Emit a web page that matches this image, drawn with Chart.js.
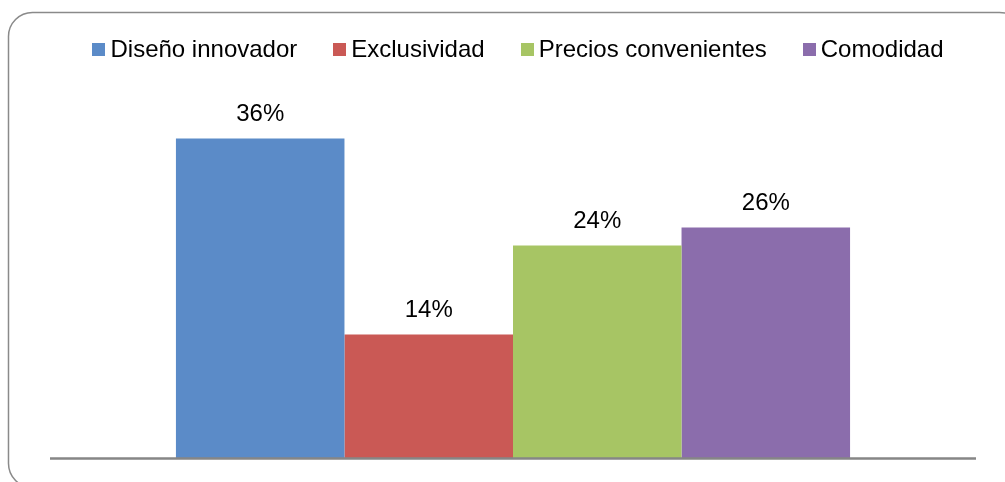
<!DOCTYPE html>
<html>
<head>
<meta charset="utf-8">
<script src="https://cdn.jsdelivr.net/npm/chart.js@4/dist/chart.umd.min.js"></script>
<style>
  html, body { margin: 0; padding: 0; background: #ffffff; }
  #wrap { width: 1005px; height: 482px; }
</style>
</head>
<body>
<div id="wrap"><canvas id="chart" width="1005" height="482"></canvas></div>
<script>
// Survey answers: one bar per reason, value in percent
const categories = ['Diseño innovador', 'Exclusividad', 'Precios convenientes', 'Comodidad'];
const values = [36, 14, 24, 26];
const valueLabels = ['36%', '14%', '24%', '26%'];

const barColors = ['#5B8BC8', '#CA5955', '#A7C564', '#8B6DAC'];
const FONT = '"Liberation Sans", Arial, sans-serif';

const datasets = categories.map((name, i) => ({
  label: name,
  data: [values[i]],
  backgroundColor: barColors[i],
  borderWidth: 0,
  categoryPercentage: 0.728,
  barPercentage: 1.0
}));

// Rounded frame around the whole chart
const framePlugin = {
  id: 'frame',
  beforeDraw(chart) {
    const ctx = chart.ctx;
    ctx.save();
    ctx.fillStyle = '#ffffff';
    ctx.fillRect(0, 0, chart.width, chart.height);
    ctx.beginPath();
    ctx.roundRect(8.5, 12.5, 1015, 475, 24);
    ctx.strokeStyle = '#8a8a8a';
    ctx.lineWidth = 1.5;
    ctx.stroke();
    ctx.restore();
  }
};

// Horizontal category axis line under the bars
const baselinePlugin = {
  id: 'baseline',
  afterDatasetsDraw(chart) {
    const { ctx, chartArea } = chart;
    const y0 = chart.scales.y.getPixelForValue(0);
    ctx.save();
    ctx.beginPath();
    ctx.moveTo(chartArea.left, y0 - 0.5);
    ctx.lineTo(chartArea.right, y0 - 0.5);
    ctx.strokeStyle = '#868686';
    ctx.lineWidth = 2.5;
    ctx.stroke();
    ctx.restore();
  }
};

// Percentage labels above each bar
const valueLabelPlugin = {
  id: 'valueLabels',
  afterDatasetsDraw(chart) {
    const ctx = chart.ctx;
    ctx.save();
    ctx.font = '24px ' + FONT;
    ctx.fillStyle = '#000000';
    ctx.textAlign = 'center';
    ctx.textBaseline = 'middle';
    chart.data.datasets.forEach((ds, i) => {
      const bar = chart.getDatasetMeta(i).data[0];
      ctx.fillText(valueLabels[i], bar.x, bar.y - 24);
    });
    ctx.restore();
  }
};

// Legend row: square swatch followed by the series name
const legendPlugin = {
  id: 'squareLegend',
  afterDraw(chart) {
    const ctx = chart.ctx;
    const box = 12, boxGap = 6, itemGap = 36, cy = 49, centerX = 518;
    ctx.save();
    ctx.font = '24px ' + FONT;
    const widths = chart.data.datasets.map(ds => ctx.measureText(ds.label).width);
    const total = widths.reduce((s, w) => s + box + boxGap + w, 0) + itemGap * (widths.length - 1);
    let x = centerX - total / 2;
    ctx.textBaseline = 'middle';
    ctx.textAlign = 'left';
    chart.data.datasets.forEach((ds, i) => {
      ctx.fillStyle = ds.backgroundColor;
      ctx.fillRect(Math.round(x), cy - box / 2, box + 1, box + 1);
      ctx.fillStyle = '#000000';
      ctx.fillText(ds.label, x + box + boxGap, cy + 1);
      x += box + boxGap + widths[i] + itemGap;
    });
    ctx.restore();
  }
};

new Chart(document.getElementById('chart'), {
  type: 'bar',
  data: { labels: [''], datasets },
  options: {
    responsive: false,
    animation: false,
    layout: { padding: { left: 50, right: 29, top: 103, bottom: 23 } },
    plugins: {
      legend: { display: false },
      tooltip: { enabled: false }
    },
    scales: {
      x: { display: false },
      y: { display: false, min: 0, max: 40 }
    }
  },
  plugins: [framePlugin, baselinePlugin, valueLabelPlugin, legendPlugin]
});
</script>
</body>
</html>
